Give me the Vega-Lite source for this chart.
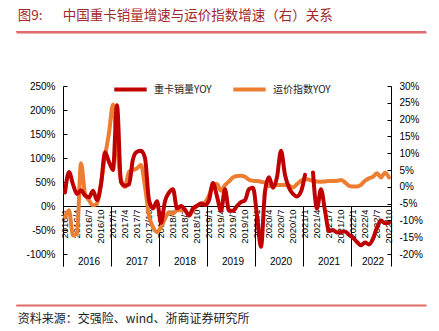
{
  "$schema": "https://vega.github.io/schema/vega-lite/v6.json",
  "background": "white",
  "padding": {"left": 15, "top": 9, "right": 0, "bottom": 0},
  "spacing": 36,
  "resolve": {"scale": {"color": "independent"}, "legend": {"color": "independent"}},
  "config": {
    "view": {"stroke": null},
    "axis": {"labelFont": "Liberation Sans", "labelColor": "#000000", "domainColor": "#000000", "tickColor": "#000000", "grid": false, "labelFontSize": 10, "domainWidth": 1, "tickWidth": 1}
  },
  "datasets": {
    "m": [
      {"month": "2016/1", "red": 28, "orange": -9},
      {"month": "2016/2", "red": 71, "orange": -7},
      {"month": "2016/3", "red": 45, "orange": -14.5},
      {"month": "2016/4", "red": 25, "orange": -14},
      {"month": "2016/5", "red": 33, "orange": 7},
      {"month": "2016/6", "red": 22, "orange": -2},
      {"month": "2016/7", "red": 18, "orange": -4},
      {"month": "2016/8", "red": 32, "orange": -5.5},
      {"month": "2016/9", "red": 12, "orange": -5},
      {"month": "2016/10", "red": 45, "orange": 1},
      {"month": "2016/11", "red": 112, "orange": 9},
      {"month": "2016/12", "red": 92, "orange": 16},
      {"month": "2017/1", "red": 75, "orange": 24.5},
      {"month": "2017/2", "red": 210, "orange": 12},
      {"month": "2017/3", "red": 50, "orange": 2},
      {"month": "2017/4", "red": 42, "orange": 0},
      {"month": "2017/5", "red": 45, "orange": 4.5},
      {"month": "2017/6", "red": 98, "orange": 5},
      {"month": "2017/7", "red": 113, "orange": 5.5},
      {"month": "2017/8", "red": 115, "orange": 6.5},
      {"month": "2017/9", "red": 100, "orange": 0},
      {"month": "2017/10", "red": 12, "orange": -8.6},
      {"month": "2017/11", "red": -5, "orange": -12},
      {"month": "2017/12", "red": 10, "orange": -13.5},
      {"month": "2018/1", "red": -35, "orange": -12},
      {"month": "2018/2", "red": 10, "orange": -9.5},
      {"month": "2018/3", "red": 28, "orange": -7.6},
      {"month": "2018/4", "red": 35, "orange": -8},
      {"month": "2018/5", "red": -5, "orange": -7},
      {"month": "2018/6", "red": 0, "orange": -7},
      {"month": "2018/7", "red": -8, "orange": -7},
      {"month": "2018/8", "red": -20, "orange": -8.5},
      {"month": "2018/9", "red": -5, "orange": -7},
      {"month": "2018/10", "red": 0, "orange": -5.6},
      {"month": "2018/11", "red": 5, "orange": -5},
      {"month": "2018/12", "red": 2, "orange": -4.6},
      {"month": "2019/1", "red": 12, "orange": -2.6},
      {"month": "2019/2", "red": 48, "orange": 0.5},
      {"month": "2019/3", "red": 20, "orange": 0.8},
      {"month": "2019/4", "red": -10, "orange": -1.2},
      {"month": "2019/5", "red": 35, "orange": 0.5},
      {"month": "2019/6", "red": -10, "orange": 1.6},
      {"month": "2019/7", "red": -10, "orange": 2.8},
      {"month": "2019/8", "red": 0, "orange": 3.2},
      {"month": "2019/9", "red": 8, "orange": 3.3},
      {"month": "2019/10", "red": 12, "orange": 3.0},
      {"month": "2019/11", "red": 35, "orange": 2.1},
      {"month": "2019/12", "red": 38, "orange": 1.8},
      {"month": "2020/1", "red": -20, "orange": 1.7},
      {"month": "2020/2", "red": -85, "orange": 1.5},
      {"month": "2020/3", "red": 30, "orange": 1.2},
      {"month": "2020/4", "red": 60, "orange": 0.2},
      {"month": "2020/5", "red": 38, "orange": 0.5},
      {"month": "2020/6", "red": 60, "orange": 0.5},
      {"month": "2020/7", "red": 115, "orange": 0.5},
      {"month": "2020/8", "red": 65, "orange": 0.5},
      {"month": "2020/9", "red": 38, "orange": 0.3},
      {"month": "2020/10", "red": 25, "orange": -0.2},
      {"month": "2020/11", "red": 20, "orange": 0.8},
      {"month": "2020/12", "red": 30, "orange": 1.8},
      {"month": "2021/1", "red": 65, "orange": 2.3},
      {"month": "2021/2", "red": null, "orange": 2.1},
      {"month": "2021/3", "red": 70, "orange": 1.8},
      {"month": "2021/4", "red": -5, "orange": 1.6},
      {"month": "2021/5", "red": 35, "orange": 1.5},
      {"month": "2021/6", "red": -10, "orange": 1.6},
      {"month": "2021/7", "red": -52, "orange": 1.7},
      {"month": "2021/8", "red": -50, "orange": 1.7},
      {"month": "2021/9", "red": -55, "orange": 1.8},
      {"month": "2021/10", "red": -54, "orange": 2.0},
      {"month": "2021/11", "red": -53, "orange": 1.3},
      {"month": "2021/12", "red": -60, "orange": 0.3},
      {"month": "2022/1", "red": -66, "orange": 0.1},
      {"month": "2022/2", "red": -75, "orange": 0.1},
      {"month": "2022/3", "red": -82, "orange": 0.6},
      {"month": "2022/4", "red": -76, "orange": 1.8},
      {"month": "2022/5", "red": -80, "orange": 2.5},
      {"month": "2022/6", "red": -68, "orange": 3.0},
      {"month": "2022/7", "red": -45, "orange": 4.0},
      {"month": "2022/8", "red": -30, "orange": 2.8},
      {"month": "2022/9", "red": -36, "orange": 4.2},
      {"month": "2022/10", "red": -35, "orange": 2.8}
    ]
  },
  "vconcat": [
    {
      "width": 410,
      "height": 1,
      "view": {"stroke": null, "fill": "#e07272"},
      "title": {"text": "图9:\u3000\u2002中国重卡销量增速与运价指数增速（右）关系", "anchor": "start", "font": "Noto Sans CJK SC", "fontSize": 13.5, "fontWeight": "normal", "color": "#a3282c", "offset": 6, "dx": 2},
      "data": {"name": "m"},
      "mark": {"type": "point", "opacity": 0},
      "encoding": {
        "x": {"field": "month", "type": "ordinal", "sort": null, "axis": {"orient": "bottom", "domainColor": "#de6a6a", "domainWidth": 2, "ticks": false, "labels": false, "title": null}}
      }
    },
    {
      "spacing": 35,
      "resolve": {"scale": {"color": "independent"}, "legend": {"color": "independent"}},
      "vconcat": [
        {
          "spacing": 0,
          "resolve": {"scale": {"color": "independent"}, "legend": {"color": "independent"}},
          "hconcat": [
            {
              "width": 1,
              "height": 180,
              "data": {"values": []},
              "mark": "point"
            },
            {
              "width": 328,
              "height": 180,
              "data": {"name": "m"},
              "layer": [
                {
                  "mark": {"type": "line", "strokeWidth": 4, "interpolate": "monotone", "strokeCap": "round", "strokeJoin": "round"},
                  "encoding": {
                    "x": {"field": "month", "type": "ordinal", "sort": null, "scale": {"type": "band", "paddingInner": 0, "paddingOuter": 0},
                      "axis": {"orient": "bottom", "offset": -60, "values": ["2016/1", "2017/1", "2018/1", "2019/1", "2020/1", "2021/1", "2022/1"], "bandPosition": 0, "tickSize": 60, "domain": false, "labelAngle": 0, "labelExpr": "split(datum.value, '/')[0]", "labelOffset": {"condition": {"test": "datum.value == '2022/1'", "value": 20}, "value": 24}, "labelPadding": -5, "labelBaseline": "middle", "labelAlign": "center", "labelOverlap": false, "labelFontSize": 10, "title": null}},
                    "y": {"field": "orange", "type": "quantitative", "scale": {"domain": [-23.5714, 30], "nice": false, "zero": false},
                      "axis": {"orient": "right", "values": [-20, -15, -10, -5, 0, 5, 10, 15, 20, 25, 30], "labelExpr": "datum.value + '%'", "tickSize": -4, "labelPadding": 12, "title": null}},
                    "color": {"datum": "运价指数YOY", "type": "nominal"}
                  }
                },
                {
                  "mark": {"type": "line", "strokeWidth": 4, "interpolate": "monotone", "strokeCap": "round", "strokeJoin": "round", "invalid": "break-paths-show-domains"},
                  "encoding": {
                    "x": {"field": "month", "type": "ordinal", "sort": null, "scale": {"type": "band", "paddingInner": 0, "paddingOuter": 0},
                      "axis": {"orient": "bottom", "offset": -60, "values": ["2016/1", "2016/4", "2016/7", "2016/10", "2017/1", "2017/4", "2017/7", "2017/10", "2018/1", "2018/4", "2018/7", "2018/10", "2019/1", "2019/4", "2019/7", "2019/10", "2020/1", "2020/4", "2020/7", "2020/10", "2021/1", "2021/4", "2021/7", "2021/10", "2022/1", "2022/4", "2022/7", "2022/10"], "ticks": false, "domain": true, "labelAngle": 270, "labelPadding": 3, "labelOverlap": false, "labelFontSize": 9.5, "title": null}},
                    "y": {"field": "red", "type": "quantitative", "scale": {"domain": [-125, 250], "nice": false, "zero": false},
                      "axis": {"orient": "left", "values": [-100, -50, 0, 50, 100, 150, 200, 250], "labelExpr": "datum.value + '%'", "tickSize": -4, "labelPadding": 12, "title": " ", "titlePadding": 0, "titleFontSize": 9}},
                    "color": {"datum": "重卡销量YOY", "type": "nominal",
                      "scale": {"domain": ["重卡销量YOY", "运价指数YOY"], "range": ["#c00000", "#ed7d31"]},
                      "legend": {"orient": "none", "legendX": 49, "legendY": -15, "direction": "horizontal", "columns": 2, "gridAlign": "none", "title": null, "symbolType": "stroke", "symbolStrokeWidth": 4, "symbolSize": 1050, "labelFont": "Noto Sans CJK SC", "labelFontSize": 10, "labelColor": "#222222", "labelOffset": 5, "columnPadding": 13, "padding": 0}}
                  }
                }
              ],
              "resolve": {"scale": {"x": "independent", "y": "independent"}}
            }
          ]
        },
        {
          "width": 410,
          "height": 1,
          "view": {"stroke": null, "fill": "#e07272"},
          "title": {"text": "资料来源：交强险、wind、浙商证券研究所", "orient": "bottom", "anchor": "start", "font": "Noto Sans CJK SC", "fontSize": 12, "fontWeight": "normal", "color": "#222222", "offset": 6, "dx": 2},
          "data": {"name": "m"},
          "mark": {"type": "point", "opacity": 0},
          "encoding": {
            "x": {"field": "month", "type": "ordinal", "sort": null, "axis": {"orient": "top", "domainColor": "#de6a6a", "domainWidth": 2, "ticks": false, "labels": false, "title": null}}
          }
        }
      ]
    }
  ]
}
